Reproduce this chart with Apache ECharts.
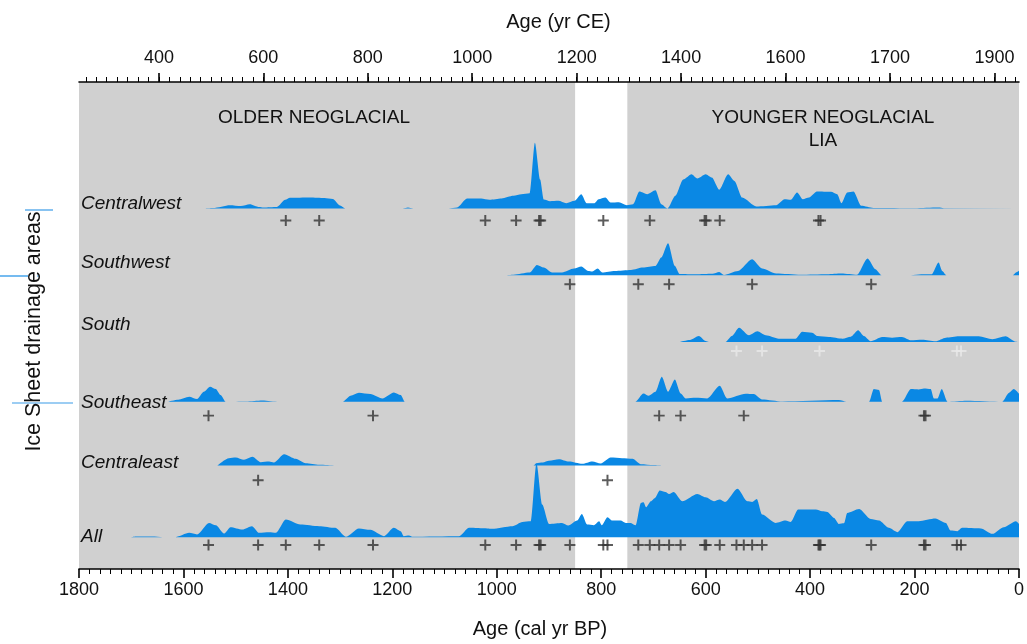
<!DOCTYPE html>
<html>
<head>
<meta charset="utf-8">
<title>Ice sheet drainage areas</title>
<script src="https://cdn.jsdelivr.net/npm/echarts@6/dist/echarts.min.js"></script>
<style>
  html, body { margin: 0; background: #fff; }
  #main { width: 1027px; height: 644px; }
</style>
</head>
<body>
<div id="main"></div>
<script>
// density curves: [age cal yr BP, relative height]
var CENTRALWEST = [[1560,0],[1543,0.5],[1511,3.3],[1490,2.5],[1473,4.3],[1455,1.5],[1447,1],[1421,1.5],[1405,8.7],[1396,10.7],[1358,11],[1330,10.5],[1314,9.5],[1300,3],[1290,0],
  [1180,0],[1170,1],[1160,0],
  [1092,0],[1076,1],[1057,10],[1030,10],[1014,8.7],[991,10],[968,12.7],[953,14.3],[937,15.3],[927,66],[917,29],[910,9],[898,7.3],[882,7.7],[867,5.3],[851,7.7],[838,14.3],[828,5.3],[813,5.3],[805,9.3],[792,11],[782,6],[766,6.3],[751,3.3],[739,4.3],[727,17],[712,14.3],[696,18.3],[685,4.3],[673,0],[658,12.7],[643,29],[627,34.3],[616,30],[600,34.3],[588,31],[574,18.7],[557,34.3],[545,27.7],[530,11],[503,2],[465,3.3],[449,9.3],[437,8.7],[425,16],[414,9.3],[402,11],[387,17],[360,16.7],[348,14.3],[340,5.3],[329,16],[317,17],[302,2.7],[279,0.5],[200,0.3],[154,1],[144,0.3],[0,0.3]];
var SOUTHWEST = [[982,0],[968,0.5],[937,2.7],[923,10.3],[910,7.7],[894,2.7],[875,2.7],[852,6.7],[838,8.7],[825,4.3],[817,3.7],[807,6.7],[798,2.7],[774,4.3],[743,5.3],[720,7.7],[696,9.3],[685,17.7],[672,32],[659,9.3],[650,1.3],[619,1],[587,1.5],[574,3.3],[565,0.3],[538,4.3],[511,16],[492,6.7],[465,1.7],[418,0.5],[367,1],[340,1.7],[310,0.5],[290,16.7],[275,6],[263,0],
  [207,0],[187,1],[167,1],[154,12.7],[147,4.3],[139,0],[12,0],[5,3],[0,4.5]];
var SOUTH = [[650,0],[630,2],[613,6],[600,1],[594,0],[562,0],[550,6],[536,14.3],[517,6.7],[501,10.7],[485,6.7],[460,3.3],[428,3.3],[415,10.3],[396,9.3],[386,6],[364,5],[338,3.3],[322,5.3],[308,11.7],[297,6],[284,0.7],[262,5],[243,4.3],[224,5],[207,1.7],[185,2.3],[160,0.7],[140,4.3],[115,5.7],[77,5.7],[51,2.7],[26,5.7],[6,0.3],[0,0]];
var SOUTHEAST = [[1630,0],[1610,2],[1589,5],[1574,2.7],[1561,10],[1549,15],[1538,12.7],[1529,6.7],[1519,0],[1480,0.3],[1449,1.3],[1417,0],
  [1295,0],[1280,6],[1264,9],[1242,7.7],[1219,3.3],[1197,9.3],[1184,6.7],[1176,0],
  [735,0],[719,8.3],[709,6],[696,10],[684,25],[672,10],[659,22.3],[648,8.3],[638,3.3],[619,4],[597,3.3],[573,16],[559,3.3],[523,8],[508,7.7],[492,2.3],[453,0.3],[345,1.7],[330,0],
  [287,0],[278,12.7],[268,11.7],[262,0],[224,0],[207,12.7],[192,12.3],[182,13.3],[169,12.7],[163,3.3],[156,3.3],[148,12.7],[137,0],[100,1],[32,0],[19,9],[10,12.7],[0,8]];
var CENTRALEAST = [[1535,0],[1513,7.3],[1500,8],[1484,5.7],[1468,8.7],[1452,3.3],[1436,4],[1427,3],[1407,11.3],[1385,6.7],[1366,2.3],[1340,0.7],[1308,0],
  [930,0],[924,2.3],[912,3],[900,4.7],[881,6.3],[862,4],[836,1.7],[817,4],[801,2],[782,8],[760,7.3],[740,6.7],[724,1.3],[700,0.5],[683,0]];
var ALL = [[1700,0],[1690,0.7],[1660,0.7],[1640,0],[1615,0],[1589,4.3],[1574,2.7],[1551,14.3],[1538,12],[1522,3.7],[1510,10],[1487,7.7],[1469,11],[1455,4.3],[1436,5],[1423,4.3],[1404,17.7],[1376,12.7],[1340,11],[1309,9.3],[1289,0.3],[1264,8.7],[1242,7.3],[1216,1],[1197,9.3],[1184,6],[1178,1],[1168,1.7],[1162,0.5],[1072,1],[1053,9.3],[1018,8.7],[1009,8.3],[970,11],[951,15.3],[935,16],[924,74.3],[913,32.7],[900,13.3],[875,14.3],[863,11.7],[846,16.7],[837,23.3],[827,12.7],[814,12],[804,16],[799,12],[788,20],[779,16.7],[763,16.7],[753,14.3],[744,14.3],[734,12],[724,34.3],[719,35],[714,30],[705,36],[697,39.3],[688,46.7],[677,45.3],[670,43.3],[661,45.3],[645,36],[616,43.3],[600,40],[584,36],[573,37.7],[563,35.3],[539,48.7],[520,36],[511,35.3],[502,38.3],[492,22.7],[466,14.3],[447,16.7],[437,15.3],[423,27.7],[389,27.7],[377,26],[367,25.3],[354,19.3],[345,13.3],[335,14],[329,24.3],[306,28.3],[284,18.3],[268,16.7],[249,9.3],[233,5],[214,16],[192,16],[160,18.7],[140,14.3],[131,6.7],[118,6],[109,9.3],[73,8.7],[51,3.3],[29,10],[6,16],[0,13.3]];

// dated samples (cal yr BP)
var CENTRALWEST_DATES = [1404,1340,1022,963,919,916,796,707,602,599,573,384,380];
var SOUTHWEST_DATES = [860,729,670,511,283];
var SOUTH_DATES = [541,492,382,119,111];
var SOUTHEAST_DATES = [1552,1237,689,648,527,182,179];
var CENTRALEAST_DATES = [1457,788];
var ALL_DATES = [].concat(CENTRALWEST_DATES, SOUTHWEST_DATES, SOUTH_DATES, SOUTHEAST_DATES, CENTRALEAST_DATES);

var BOTTOM_TICKS = [0,200,400,600,800,1000,1200,1400,1600,1800];
var TOP_TICKS = [400,600,800,1000,1200,1400,1600,1800,2000];
var TOP_LABELS = ['400','600','800','1000','1200','1400','1600','1700','1900'];
var TOP_MINOR = [];
for (var v = 260; v <= 2040; v += 20) TOP_MINOR.push(v);

var BLUE = '#0a88e4';
var INK = '#111111';
var FONT = '"Liberation Sans", Arial, sans-serif';

// layout of each track (y in axis units = px above the bottom axis)
var TRACKS = [
  {name: 'Centralwest', data: CENTRALWEST, dates: CENTRALWEST_DATES, base: 362, cross: 350, label: 204},
  {name: 'Southwest', data: SOUTHWEST, dates: SOUTHWEST_DATES, base: 295, cross: 286, label: 263},
  {name: 'South', data: SOUTH, dates: SOUTH_DATES, base: 228, cross: 219, label: 325, light: true},
  {name: 'Southeast', data: SOUTHEAST, dates: SOUTHEAST_DATES, base: 168, cross: 154, label: 403},
  {name: 'Centraleast', data: CENTRALEAST, dates: CENTRALEAST_DATES, base: 104, cross: 89, label: 463},
  {name: 'All', data: ALL, dates: ALL_DATES, base: 32, cross: 24, label: 537}
];

var PLUS = 'path://M4.1,0H5.9V4.1H10V5.9H5.9V10H4.1V5.9H0V4.1H4.1Z';

var series = [{
  type: 'line', data: [], silent: true, z: 1,
  markArea: {
    silent: true,
    itemStyle: {color: '#d0d0d0'},
    data: [[{xAxis: 1800}, {xAxis: 850}], [{xAxis: 750}, {xAxis: 0}]]
  }
}];

var graphics = [];

TRACKS.forEach(function (t) {
  series.push({
    type: 'line',
    name: t.name,
    data: t.data.map(function (p) { return [p[0], t.base + p[1]]; }),
    smooth: 0.25,
    smoothMonotone: 'x',
    showSymbol: false,
    symbol: 'none',
    lineStyle: {width: 0},
    areaStyle: {color: BLUE, opacity: 1, origin: t.base},
    silent: true,
    z: 3
  });
  series.push({
    type: 'scatter',
    data: t.dates.map(function (d) { return [d, t.cross]; }),
    symbol: PLUS,
    symbolSize: 11,
    itemStyle: {color: t.light ? '#e8e8e8' : '#333333'},
    silent: true,
    z: 4
  });
  graphics.push({
    type: 'text', x: 81, y: t.label,
    style: {text: t.name, font: 'italic 19px ' + FONT, fill: INK, verticalAlign: 'middle', align: 'left'},
    z: 10
  });
});

graphics.push(
  {type: 'text', x: 314, y: 118, style: {text: 'OLDER NEOGLACIAL', font: '19px ' + FONT, fill: INK, align: 'center', verticalAlign: 'middle'}, z: 10},
  {type: 'text', x: 823, y: 118, style: {text: 'YOUNGER NEOGLACIAL', font: '19px ' + FONT, fill: INK, align: 'center', verticalAlign: 'middle'}, z: 10},
  {type: 'text', x: 823, y: 141, style: {text: 'LIA', font: '19px ' + FONT, fill: INK, align: 'center', verticalAlign: 'middle'}, z: 10},
  // stray blue strokes at the left margin
  {type: 'line', shape: {x1: 25, y1: 210, x2: 53, y2: 210}, style: {stroke: '#3a9be8', lineWidth: 1.2}},
  {type: 'line', shape: {x1: 0, y1: 276, x2: 28, y2: 276}, style: {stroke: '#1a8ee6', lineWidth: 1.2}},
  {type: 'line', shape: {x1: 37, y1: 276, x2: 39, y2: 276}, style: {stroke: '#3a9be8', lineWidth: 1.2}},
  {type: 'line', shape: {x1: 12, y1: 403, x2: 73, y2: 403}, style: {stroke: '#3a9be8', lineWidth: 1.2}}
);

var myChart = echarts.init(document.getElementById('main'), null, {renderer: 'canvas'});
var option = {
  animation: false,
  backgroundColor: '#ffffff',
  textStyle: {fontFamily: FONT},
  grid: [
    {left: 79, right: 8, top: 82, bottom: 73, containLabel: false},
    {left: 79, right: 8, top: 82, bottom: 73, containLabel: false}
  ],
  xAxis: [
    {
      type: 'value', gridIndex: 0, position: 'bottom', min: 0, max: 1800, interval: 200, inverse: true, z: 6,
      name: 'Age (cal yr BP)', nameLocation: 'middle', nameGap: 50,
      nameTextStyle: {fontSize: 20, color: INK, fontFamily: FONT, padding: [0, 18, 0, 0]},
      axisLine: {show: true, onZero: false, lineStyle: {color: '#000', width: 1.6}},
      axisTick: {show: true, inside: false, length: 9, lineStyle: {color: '#000', width: 1.6}},
      minorTick: {show: true, splitNumber: 10, length: 5, lineStyle: {color: '#000', width: 1}},
      axisLabel: {fontSize: 18, color: INK, margin: 12, fontFamily: FONT,
        formatter: function (v) { return BOTTOM_TICKS.indexOf(v) >= 0 ? String(v) : ''; }},
      splitLine: {show: false}
    },
    {
      type: 'value', gridIndex: 0, position: 'top', min: 247, max: 2047, z: 6,
      name: 'Age (yr CE)', nameLocation: 'middle', nameGap: 50,
      nameTextStyle: {fontSize: 20, color: INK, fontFamily: FONT, padding: [0, 0, 0, 19]},
      axisLine: {show: true, onZero: false, lineStyle: {color: '#000', width: 1.6}},
      axisTick: {show: true, inside: false, length: 9, customValues: TOP_TICKS, lineStyle: {color: '#000', width: 1.6}},
      axisLabel: {fontSize: 18, color: INK, margin: 15, fontFamily: FONT, customValues: TOP_TICKS,
        formatter: function (v) { var i = TOP_TICKS.indexOf(v); return i >= 0 ? TOP_LABELS[i] : ''; }},
      splitLine: {show: false}
    },
    {
      type: 'value', gridIndex: 1, position: 'top', min: 247, max: 2047, z: 6,
      axisLine: {show: false, onZero: false},
      axisTick: {show: true, inside: false, length: 5, customValues: TOP_MINOR,
        lineStyle: {color: '#000', width: 1}},
      axisLabel: {show: false},
      splitLine: {show: false}
    }
  ],
  yAxis: [
    {
      type: 'value', gridIndex: 0, min: 0, max: 489,
      name: 'Ice Sheet drainage areas', nameLocation: 'middle', nameRotate: 90, nameGap: 34,
      nameTextStyle: {fontSize: 21.5, color: INK, fontFamily: FONT, padding: [0, 12, 0, 0]},
      axisLine: {show: false}, axisTick: {show: false}, axisLabel: {show: false}, splitLine: {show: false}
    },
    {
      type: 'value', gridIndex: 1, min: 0, max: 489, show: false
    }
  ],
  graphic: graphics,
  series: series
};
myChart.setOption(option);
</script>
</body>
</html>
